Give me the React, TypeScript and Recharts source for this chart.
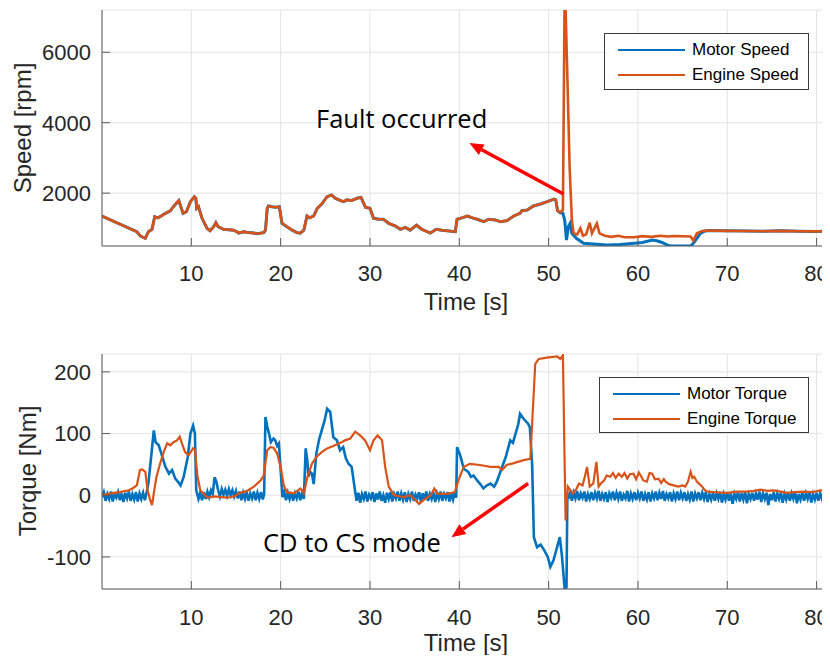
import { LineChart, Line, XAxis, YAxis, CartesianGrid, Legend, ReferenceLine } from 'recharts';

// axis ticks
const timeTicks = [10, 20, 30, 40, 50, 60, 70, 80];
const speedTicks = [2000, 4000, 6000];
const torqueTicks = [-100, 0, 100, 200];

const speedLegend = ['Motor Speed', 'Engine Speed'];
const torqueLegend = ['Motor Torque', 'Engine Torque'];

// speed [rpm], both machines follow each other until the fault
const sharedSpeed: [number, number][] = [
  [0, 1350], [3.9, 906], [4.3, 784], [4.85, 718], [5.2, 906], [5.6, 974], [5.9, 1332], [6.25, 1300],
  [6.5, 1332], [7.1, 1428], [7.65, 1502], [8.0, 1616], [8.47, 1758], [8.6, 1790], [9.07, 1428],
  [9.45, 1474], [9.9, 1758], [10.34, 1900], [10.5, 1858], [10.6, 1570], [10.8, 1616], [11.2, 1286],
  [11.76, 1002], [12.1, 934], [12.5, 1048], [12.75, 1162], [13.0, 1048], [13.6, 974], [14.7, 950],
  [15.1, 906], [15.3, 866], [15.85, 906], [16.4, 880], [17.0, 866], [17.35, 848], [18.1, 880],
  [18.3, 950], [18.5, 1570], [18.65, 1636], [19.0, 1616], [19.5, 1600], [19.85, 1616], [20.15, 1144],
  [20.7, 1048], [21.3, 950], [21.8, 880], [22.2, 866], [22.6, 950], [22.95, 1352], [23.25, 1300],
  [23.7, 1352], [24.1, 1570], [24.6, 1692], [25.2, 1900], [25.7, 1948], [26.1, 1858], [26.7, 1790],
  [27.05, 1758], [27.4, 1810], [27.95, 1790], [28.55, 1854], [29.0, 1880], [29.5, 1598], [30.0, 1570],
  [30.4, 1286], [31.0, 1260], [31.5, 1260], [32.1, 1144], [32.85, 1068], [33.4, 974], [33.95, 1030],
  [34.5, 950], [35.2, 1090], [35.8, 974], [36.75, 866], [37.4, 974], [38.05, 950], [38.6, 934],
  [39.55, 906], [39.75, 1260], [40.3, 1300], [40.9, 1352], [41.45, 1300], [42.0, 1260], [42.75, 1192],
  [43.3, 1260], [44.05, 1240], [44.6, 1192], [45.35, 1220], [46.1, 1352], [46.8, 1428], [47.0, 1500],
  [47.6, 1520], [48.3, 1636], [49.1, 1692], [49.85, 1758], [50.6, 1830], [50.8, 1810], [51.0, 1500],
];

const motorSpeedAfter: [number, number][] = [
  [51.3, 1440], [51.6, 1428], [51.8, 1238], [52.0, 670], [52.2, 1048], [52.4, 1140], [52.6, 860],
  [53.1, 718], [53.9, 577], [55.0, 560], [56.5, 530], [58.0, 545], [59.6, 577], [60.5, 600],
  [61.6, 670], [62.1, 650], [62.7, 600], [63.2, 540], [63.6, 500], [65.9, 500], [66.2, 577],
  [67.0, 860], [67.5, 926], [68, 940], [70, 930], [72, 925], [74, 920], [76, 930], [78, 920],
  [80, 915], [81.5, 920],
];

const engineSpeedAfter: [number, number][] = [
  [51.3, 1460], [51.6, 1520], [51.78, 7200], [51.9, 7200], [52.07, 5590], [52.35, 2750], [52.6, 1238],
  [52.8, 860], [53.2, 830], [53.55, 1002], [53.85, 790], [54.2, 830], [54.6, 1162], [54.85, 860],
  [55.4, 1140], [55.7, 860], [56.3, 790], [57.0, 760], [57.8, 790], [58.5, 750], [59.6, 747],
  [60.5, 780], [61.5, 760], [62.5, 790], [63.3, 770], [64.0, 785], [65.0, 775], [65.9, 768],
  [66.2, 650], [66.6, 860], [67.2, 926], [68, 940], [70, 930], [72, 925], [74, 920], [76, 930],
  [78, 920], [80, 915], [81.5, 920],
];

const motorSpeed = [...sharedSpeed, ...motorSpeedAfter];
const engineSpeed = [...sharedSpeed, ...engineSpeedAfter];

// torque [Nm]
const motorTorque: [number, number][] = [
  [0, -3], [0.2, 5], [0.4, -9], [0.6, 2], [0.8, -6], [1.0, 6], [1.2, -10], [1.4, 1], [1.6, -4], [1.8, 5],
  [2.0, -8], [2.2, 3], [2.4, -11], [2.6, 4], [2.8, -5], [3.0, 6], [3.2, -9], [3.4, 2], [3.6, -7], [3.8, 5],
  [4.0, -10], [4.2, 3], [4.4, -6], [4.6, 4], [4.8, -8], [5.0, 5],
  [5.2, 20], [5.5, 62], [5.8, 105], [6.0, 86], [6.35, 81], [6.7, 65], [7.1, 46], [7.5, 35], [7.85, 41],
  [8.2, 27], [8.5, 22], [8.8, 16], [9.15, 30], [9.6, 62], [9.9, 100], [10.2, 113], [10.4, 100],
  [10.55, 8], [10.8, -6], [11.0, 4], [11.2, -8], [11.4, 5], [11.6, -6], [11.8, 6], [12.0, -3], [12.2, 8],
  [12.4, 2], [12.6, 29], [12.8, 22], [13.0, 8], [13.2, -2], [13.4, 10], [13.6, 1], [13.8, 9], [14.0, -1],
  [14.2, 10], [14.4, 0], [14.6, 8], [14.8, -2], [15.0, 7], [15.2, -5], [15.4, 6], [15.6, -8], [15.8, 4],
  [16.0, -6], [16.2, 5], [16.4, -9], [16.6, 3], [16.8, -5], [17.0, 6], [17.2, -8], [17.4, 4], [17.6, -6],
  [17.8, 5], [18.0, -7], [18.15, 2],
  [18.3, 127], [18.5, 111], [18.7, 100], [18.9, 86], [19.2, 92], [19.4, 89], [19.6, 80], [19.8, 84],
  [20.0, 41], [20.2, -3], [20.4, 6], [20.6, -8], [20.8, 4], [21.0, -6], [21.2, 5], [21.4, -9], [21.6, 3],
  [21.8, -5], [22.0, 6], [22.2, -8], [22.4, 4], [22.6, -6],
  [22.8, 76], [23.0, 54], [23.1, 30], [23.3, 38], [23.5, 35], [23.7, 18], [24.0, 68], [24.3, 90],
  [24.6, 105], [24.9, 120], [25.2, 140], [25.55, 135], [25.9, 94], [26.3, 89], [26.65, 73], [27.0, 78],
  [27.3, 60], [27.6, 51], [27.95, 46], [28.35, 5],
  [28.5, -9], [28.7, 4], [28.9, -12], [29.1, 2], [29.3, -6], [29.5, 6], [29.7, -10], [29.9, 1], [30.1, -5],
  [30.3, 5], [30.5, -11], [30.7, 3], [30.9, -7], [31.1, 6], [31.3, -9], [31.5, 0], [31.7, -12], [31.9, 4],
  [32.1, -6], [32.3, 5], [32.5, -10], [32.7, 2], [32.9, -5], [33.1, 6], [33.3, -9], [33.5, 3], [33.7, -7],
  [33.9, 5], [34.1, -11], [34.3, 2], [34.5, -6], [34.7, 6], [34.9, -9], [35.1, 1], [35.3, -5], [35.5, 5],
  [35.7, -10], [35.9, 3], [36.1, -7], [36.3, 6], [36.5, -9], [36.7, 2], [36.9, -6], [37.1, 5], [37.3, -11],
  [37.5, 3], [37.7, -6], [37.9, 6], [38.1, -9], [38.3, 2], [38.5, -5], [38.7, 5], [38.9, -10], [39.1, 3],
  [39.3, -7], [39.5, 5], [39.65, -4],
  [39.75, 78], [40.1, 65], [40.5, 43], [41.0, 38], [41.3, 30], [41.6, 32], [42.0, 24], [42.3, 19],
  [42.7, 11], [43.1, 16], [43.5, 19], [43.9, 14], [44.2, 22], [44.6, 38], [45.2, 62], [45.7, 89],
  [46.0, 85], [46.3, 100], [46.6, 115], [46.8, 132], [47.2, 124], [47.7, 116], [47.9, 110], [48.15, 51],
  [48.35, -68], [48.7, -84], [49.1, -80], [49.5, -89], [49.9, -100], [50.2, -116], [50.55, -105],
  [50.95, -84], [51.25, -68], [51.5, -100], [51.8, -152], [52.0, -149], [52.1, 3],
  [52.2, -6], [52.4, 6], [52.6, -9], [52.8, 4], [53.0, -5], [53.2, 7], [53.4, -8], [53.6, 3], [53.8, -4],
  [54.0, 6], [54.2, -10], [54.4, 2], [54.6, -6], [54.8, 5], [55.0, -8], [55.2, 4], [55.4, -5], [55.6, 7],
  [55.8, -9], [56.0, 2], [56.2, -6], [56.4, 5], [56.6, -11], [56.8, 3], [57.0, -4], [57.2, 6], [57.4, -8],
  [57.6, 4], [57.8, -6], [58.0, 6], [58.2, -9], [58.4, 1], [58.6, -5], [58.8, 7], [59.0, -10], [59.2, 3],
  [59.4, -6], [59.6, 5], [59.8, -8], [60.0, 4], [60.2, -5], [60.4, 6], [60.6, -9], [60.8, 2], [61.0, -7],
  [61.2, 5], [61.4, -10], [61.6, 3], [61.8, -5], [62.0, 6], [62.2, -8], [62.4, 4], [62.6, -6], [62.8, 7],
  [63.0, -9], [63.2, 2], [63.4, -5], [63.6, 5], [63.8, -10], [64.0, 3], [64.2, -6], [64.4, 6], [64.6, -8],
  [64.8, 4], [65.0, -5], [65.2, 5], [65.4, -9], [65.6, 2], [65.8, -7], [66.0, 6], [66.2, -10], [66.4, 3],
  [66.6, -5], [66.8, 5], [67.0, -8], [67.2, 4], [67.4, -6], [67.6, 5], [67.8, -11], [68.0, 2], [68.2, -7],
  [68.4, 4], [68.6, -9], [68.8, 3], [69.0, -6], [69.2, 5], [69.4, -12], [69.6, 2], [69.8, -7], [70.0, 4],
  [70.2, -9], [70.4, 3], [70.6, -14], [70.8, 2], [71.0, -6], [71.2, 5], [71.4, -10], [71.6, 3], [71.8, -7],
  [72.0, 5], [72.2, -13], [72.4, 2], [72.6, -6], [72.8, 4], [73.0, -9], [73.2, 3], [73.4, -7], [73.6, 6],
  [73.8, -11], [74.0, 3], [74.2, -6], [74.4, 4], [74.6, -16], [74.8, 2], [75.0, -8], [75.2, 5], [75.4, -10],
  [75.6, 3], [75.8, -6], [76.0, 4], [76.2, -12], [76.4, 2], [76.6, -7], [76.8, 5], [77.0, -9], [77.2, 3],
  [77.4, -6], [77.6, 5], [77.8, -13], [78.0, 2], [78.2, -7], [78.4, 4], [78.6, -9], [78.8, 3], [79.0, -6],
  [79.2, 5], [79.4, -12], [79.6, 2], [79.8, -7], [80.0, 4], [80.2, -9], [80.4, 3], [80.6, -6], [80.8, 5],
  [81.0, -10], [81.2, 3], [81.5, -4],
];

const engineTorque: [number, number][] = [
  [0, 0], [1.0, 3], [2.0, 5], [3.0, 8], [3.4, 11], [3.9, 16], [4.25, 41], [4.5, 42], [4.85, 38],
  [5.1, 8], [5.4, -8], [5.6, -16], [5.85, 8], [6.1, 30], [6.5, 51], [6.9, 70], [7.3, 84], [7.65, 81],
  [8.0, 86], [8.4, 89], [8.7, 95], [8.95, 84], [9.3, 70], [9.7, 65], [10.2, 76], [10.4, 74], [10.7, 30],
  [11.0, 8], [11.8, -4], [12.5, -2], [14.0, -4], [14.75, -2], [15.5, 4], [16.25, 7], [17.0, 14],
  [17.75, 24], [18.1, 32], [18.5, 73], [18.85, 78], [19.2, 77], [19.6, 68], [20.0, 46], [20.35, 16],
  [20.7, 5], [21.5, 3], [22.2, 11], [22.6, 3], [23.0, 30], [23.5, 51], [24.0, 62], [24.6, 70],
  [25.2, 76], [25.9, 80], [26.5, 84], [26.85, 86], [27.2, 89], [27.8, 92], [28.35, 103], [28.9, 97],
  [29.45, 89], [30.0, 73], [30.4, 89], [30.85, 97], [31.35, 89], [31.7, 46], [32.1, 14], [32.7, 0],
  [33.8, -3], [34.5, 0], [35.1, -8], [35.5, -14], [36.0, -8], [36.8, 0], [37.2, 11], [37.5, 3],
  [38.6, 2], [39.5, 5], [39.9, 24], [40.5, 46], [41.2, 51], [42.3, 49], [43.5, 46], [44.4, 46],
  [44.8, 41], [45.3, 49], [46.1, 52], [47.2, 57], [47.95, 59], [48.25, 143], [48.5, 213], [48.9, 221],
  [49.8, 223], [50.95, 225], [51.3, 221], [51.6, 227], [51.75, 89], [51.9, -41], [52.15, 14],
  [52.7, 3], [53.1, 10], [53.4, 19], [53.8, 16], [54.05, 30], [54.3, 46], [54.6, 14], [55.0, 19],
  [55.35, 54], [55.6, 14], [55.9, 20], [56.2, 24], [56.5, 32], [56.9, 30], [57.2, 36], [57.5, 28],
  [57.85, 35], [58.2, 30], [58.5, 36], [58.8, 27], [59.1, 34], [59.5, 35], [59.8, 26], [60.1, 37],
  [60.3, 32], [60.6, 24], [61.0, 22], [61.3, 36], [61.6, 35], [61.9, 26], [62.3, 27], [62.6, 20],
  [62.9, 26], [63.1, 22], [63.5, 18], [64.0, 16], [64.5, 14], [65.0, 16], [65.3, 14], [65.6, 22],
  [65.9, 38], [66.1, 28], [66.3, 30], [66.6, 22], [66.9, 18], [67.2, 14], [67.5, 8], [67.75, 6],
  [68.5, 5], [70, 4], [71, 6], [72.2, 6], [73, 7], [73.7, 9], [74.5, 7], [75.2, 8], [76, 6], [76.7, 4],
  [77.5, 5], [78.6, 6], [79.5, 5], [80.5, 8], [81.5, 8],
];

// annotation arrows (tail -> head), in data units
const faultArrow = [{ x: 51.66, y: 1976 }, { x: 41.13, y: 3424 }];
const modeArrow = [{ x: 47.7, y: 19 }, { x: 39.12, y: -68 }];

const BLUE = '#0072BD';
const ORANGE = '#D95319';
const AXIS = '#5a5a5a';
const TXT = '#262626';
const FONT = '"Liberation Sans", Arial, sans-serif';

const toPoints = (pairs: [number, number][]) => pairs.map(([t, v]) => ({ t, v }));

const Arrow = (props: any) => {
  const { x1, y1, x2, y2 } = props;
  const ang = Math.atan2(y2 - y1, x2 - x1);
  const len = 14;
  const w = 6;
  const bx = x2 - len * Math.cos(ang);
  const by = y2 - len * Math.sin(ang);
  const p1 = `${bx + w * Math.sin(ang)},${by - w * Math.cos(ang)}`;
  const p2 = `${bx - w * Math.sin(ang)},${by + w * Math.cos(ang)}`;
  return (
    <g>
      <line x1={x1} y1={y1} x2={bx} y2={by} stroke="#ff0000" strokeWidth={3.5} />
      <polygon points={`${x2},${y2} ${p1} ${p2}`} fill="#ff0000" />
    </g>
  );
};

const BoxLegend = ({ payload, order, width, height }: any) => {
  const items = order
    .map((name: string) => (payload || []).find((p: any) => p.value === name))
    .filter(Boolean);
  return (
    <div
      style={{
        width,
        height,
        boxSizing: 'border-box',
        border: '1px solid #3a3a3a',
        background: '#fff',
        fontFamily: FONT,
        fontSize: 17,
        color: '#000',
        position: 'relative',
      }}
    >
      {items.map((p: any, i: number) => (
        <div key={p.value} style={{ position: 'absolute', left: 13, top: 5 + i * 25, height: 22, display: 'flex', alignItems: 'center' }}>
          <div style={{ width: 67, height: 2.5, background: p.color, marginRight: 7 }} />
          <span>{p.value}</span>
        </div>
      ))}
    </div>
  );
};

const tickStyle = { fill: TXT, fontSize: 22, fontFamily: FONT };
const titleStyle = { position: 'absolute' as const, fontFamily: FONT, fontSize: 24, color: TXT, whiteSpace: 'nowrap' as const };
const noteStyle = { position: 'absolute' as const, fontFamily: '"Open Sans", sans-serif', fontSize: 25.5, color: '#000', whiteSpace: 'nowrap' as const };

export default function App() {
  return (
    <div style={{ position: 'relative', width: 830, height: 663, margin: -8, overflow: 'hidden', background: '#fff' }}>
      {/* speed */}
      <div style={{ position: 'absolute', left: 0, top: 0 }}>
        <LineChart width={830} height={330} margin={{ top: 10, right: 0, left: 0, bottom: 0 }}>
          <CartesianGrid stroke="#e3e3e3" strokeWidth={1} />
          <XAxis
            dataKey="t" type="number" domain={[0, 81.5]} ticks={timeTicks} allowDataOverflow
            height={84} tick={tickStyle} tickSize={-8} tickMargin={27}
            axisLine={{ stroke: AXIS }} tickLine={{ stroke: AXIS }}
          />
          <XAxis
            xAxisId="top" orientation="top" dataKey="t" type="number" domain={[0, 81.5]} ticks={timeTicks}
            height={0} tick={false} tickSize={-8} axisLine={{ stroke: AXIS }} tickLine={{ stroke: AXIS }}
          />
          <YAxis
            type="number" domain={[500, 7200]} ticks={speedTicks} allowDataOverflow width={102}
            tick={tickStyle} tickSize={-8} tickMargin={19}
            axisLine={{ stroke: AXIS }} tickLine={{ stroke: AXIS }}
          />
          <Line data={toPoints(motorSpeed)} dataKey="v" name="Motor Speed" stroke={BLUE} strokeWidth={3} dot={false} isAnimationActive={false} />
          <Line data={toPoints(engineSpeed)} dataKey="v" name="Engine Speed" stroke={ORANGE} strokeWidth={2.6} dot={false} isAnimationActive={false} />
          <ReferenceLine segment={faultArrow} shape={Arrow} ifOverflow="visible" />
          <Legend
            layout="vertical" align="center" verticalAlign="middle"
            wrapperStyle={{ left: 604, top: 33, width: 205, height: 57 }}
            content={(props: any) => <BoxLegend payload={props.payload} order={speedLegend} width={205} height={57} />}
          />
        </LineChart>
      </div>

      {/* torque */}
      <div style={{ position: 'absolute', left: 0, top: 340 }}>
        <LineChart width={830} height={323} margin={{ top: 14, right: 0, left: 0, bottom: 0 }}>
          <CartesianGrid stroke="#e3e3e3" strokeWidth={1} />
          <XAxis
            dataKey="t" type="number" domain={[0, 81.5]} ticks={timeTicks} allowDataOverflow
            height={74} tick={tickStyle} tickSize={-8} tickMargin={28}
            axisLine={{ stroke: AXIS }} tickLine={{ stroke: AXIS }}
          />
          <XAxis
            xAxisId="top" orientation="top" dataKey="t" type="number" domain={[0, 81.5]} ticks={timeTicks}
            height={0} tick={false} tickSize={-8} axisLine={{ stroke: AXIS }} tickLine={{ stroke: AXIS }}
          />
          <YAxis
            type="number" domain={[-152, 229]} ticks={torqueTicks} allowDataOverflow width={102}
            tick={tickStyle} tickSize={-8} tickMargin={19}
            axisLine={{ stroke: AXIS }} tickLine={{ stroke: AXIS }}
          />
          <Line data={toPoints(motorTorque)} dataKey="v" name="Motor Torque" stroke={BLUE} strokeWidth={2.6} dot={false} isAnimationActive={false} />
          <Line data={toPoints(engineTorque)} dataKey="v" name="Engine Torque" stroke={ORANGE} strokeWidth={2.2} dot={false} isAnimationActive={false} />
          <ReferenceLine segment={modeArrow} shape={Arrow} ifOverflow="visible" />
          <Legend
            layout="vertical" align="center" verticalAlign="middle"
            wrapperStyle={{ left: 599, top: 37, width: 210, height: 56 }}
            content={(props: any) => <BoxLegend payload={props.payload} order={torqueLegend} width={210} height={56} />}
          />
        </LineChart>
      </div>

      {/* axis titles */}
      <div style={{ ...titleStyle, left: 23, top: 128, transform: 'translate(-50%, -50%) rotate(-90deg)' }}>Speed [rpm]</div>
      <div style={{ ...titleStyle, left: 466, top: 302, transform: 'translate(-50%, -50%)' }}>Time [s]</div>
      <div style={{ ...titleStyle, left: 28, top: 471, transform: 'translate(-50%, -50%) rotate(-90deg)' }}>Torque [Nm]</div>
      <div style={{ ...titleStyle, left: 466, top: 643, transform: 'translate(-50%, -50%)' }}>Time [s]</div>

      {/* annotations */}
      <div style={{ ...noteStyle, left: 316, top: 118, transform: 'translateY(-50%)' }}>Fault occurred</div>
      <div style={{ ...noteStyle, left: 263, top: 542, transform: 'translateY(-50%)' }}>CD to CS mode</div>
    </div>
  );
}
